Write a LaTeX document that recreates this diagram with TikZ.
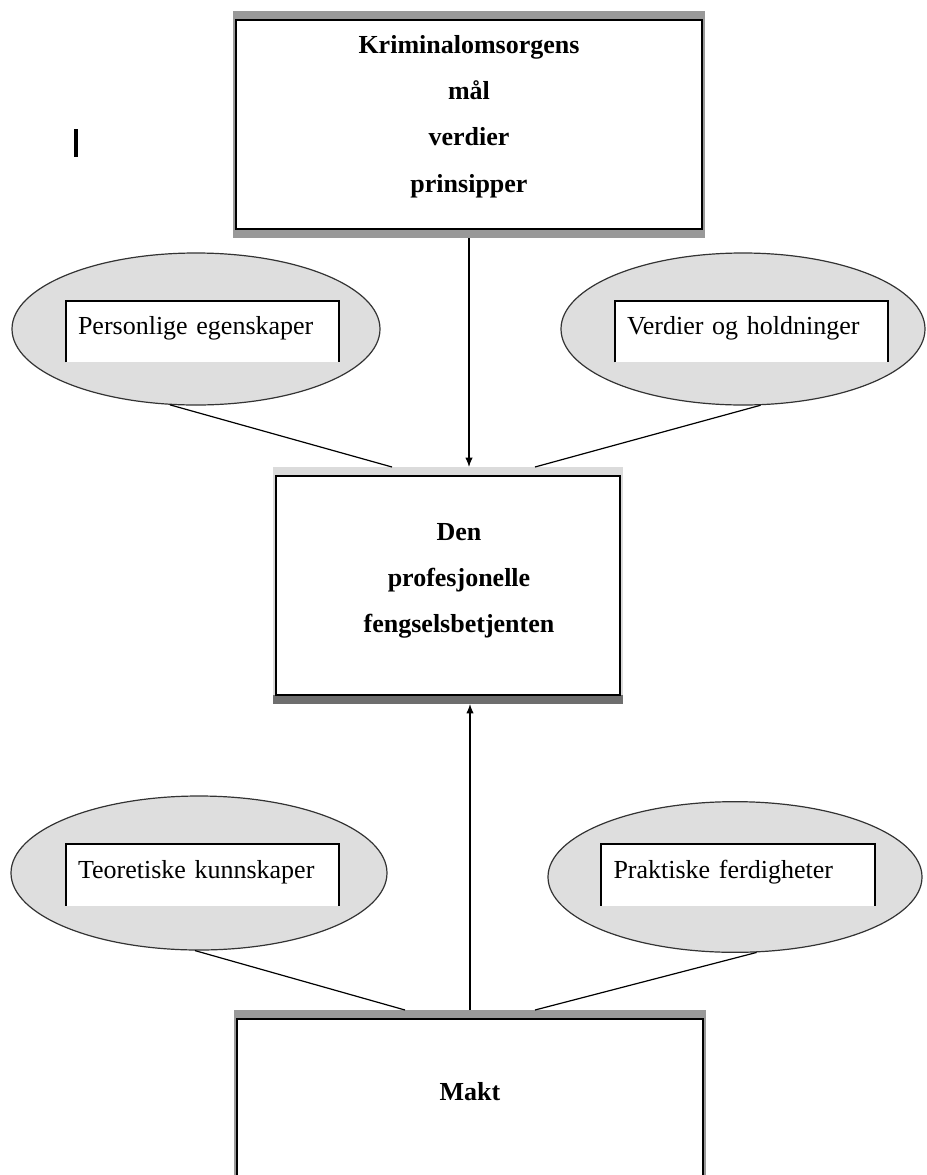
\documentclass[tikz,border=0pt]{standalone}
\usepackage{fontspec}
\setmainfont{Liberation Serif}
\usetikzlibrary{arrows.meta,shapes.geometric,backgrounds}

\begin{document}
\begin{tikzpicture}[x=0.75pt,y=-0.75pt,
          >={Latex[length=7pt,width=5.5pt]},
          mainbox/.style={draw,line width=1.5pt,fill=white,inner sep=0pt,
            outer xsep=2.25pt,outer ysep=6.75pt},
          boxtext/.style={inner sep=0pt,align=center,anchor=north,
            font=\bfseries\fontsize{19.5}{34.75}\selectfont},
          bubble/.style={ellipse,draw=black!80,line width=0.9pt,fill=black!13,inner sep=0pt},
          innerbox/.style={fill=white,minimum width=204.75pt,minimum height=45.75pt,
            inner xsep=9pt,inner ysep=0pt,text width=186.75pt,align=left,
            text height=13.5pt,text depth=9pt,font=\fontsize{19.5}{23}\selectfont},
          link/.style={line width=0.9pt}]
          \useasboundingbox(0,0)rectangle(926,1175);
          \clip(0,0)rectangle(926,1175);
          \node[mainbox,minimum width=349.5pt,minimum height=156.75pt](goal)at(469,124.5){};
          \node[mainbox,minimum width=258pt,minimum height=164.25pt](prof)at(448,585.5){};
          \node[mainbox,minimum width=349.5pt,minimum height=150pt](makt)at(470,1119){};
          \begin{scope}[on background layer]
            \fill[black!40](goal.north west)rectangle(goal.south east);
            \fill[black!14](prof.north west)rectangle(prof.south east);
            \fill[black!57](prof.south west)rectangle([yshift=6.75pt]prof.south east);
            \fill[black!40](makt.north west)rectangle(makt.south east);
          \end{scope}
          \node[boxtext](goaltxt)at(469,35){Kriminalomsorgens\\mål\\verdier\\prinsipper};
          \node[boxtext](proftxt)at(459,523){Den\\profesjonelle\\fengselsbetjenten};
          \node[boxtext](makttxt)at(470,1082){Makt};
          \node[bubble,minimum width=276pt,minimum height=114pt](pers)at(196,329){};
          \node[bubble,minimum width=273pt,minimum height=114pt](verd)at(743,329){};
          \node[bubble,minimum width=282pt,minimum height=115.5pt](teor)at(199,873){};
          \node[bubble,minimum width=280.5pt,minimum height=113pt](prakt)at(735,877){};
          \node[innerbox](persbox)at(202.5,331.5){Personlige egenskaper};
          \node[innerbox](verdbox)at(751.5,331.5){Verdier og holdninger};
          \node[innerbox](teorbox)at(202.5,875){Teoretiske kunnskaper};
          \node[innerbox](praktbox)at(738,875){Praktiske ferdigheter};
          \foreach \b in {persbox,verdbox,teorbox,praktbox}
            {\draw[line width=1.2pt](\b.south west)|-(\b.north)-|(\b.south east);}
          \draw[link](pers.251)--([xshift=-42pt]prof.north);
          \draw[link](verd.283)--([xshift=65.25pt]prof.north);
          \draw[link](teor.267)--([xshift=-48.75pt]makt.north);
          \draw[link](prakt.286)--([xshift=48.75pt]makt.north);
          \draw[link,->](goal.south)--(goal.south|-prof.north);
          \draw[link,->](makt.north)--(makt.north|-prof.south);
          \fill(74,129)rectangle(78,157);
        \end{tikzpicture}
\end{document}
